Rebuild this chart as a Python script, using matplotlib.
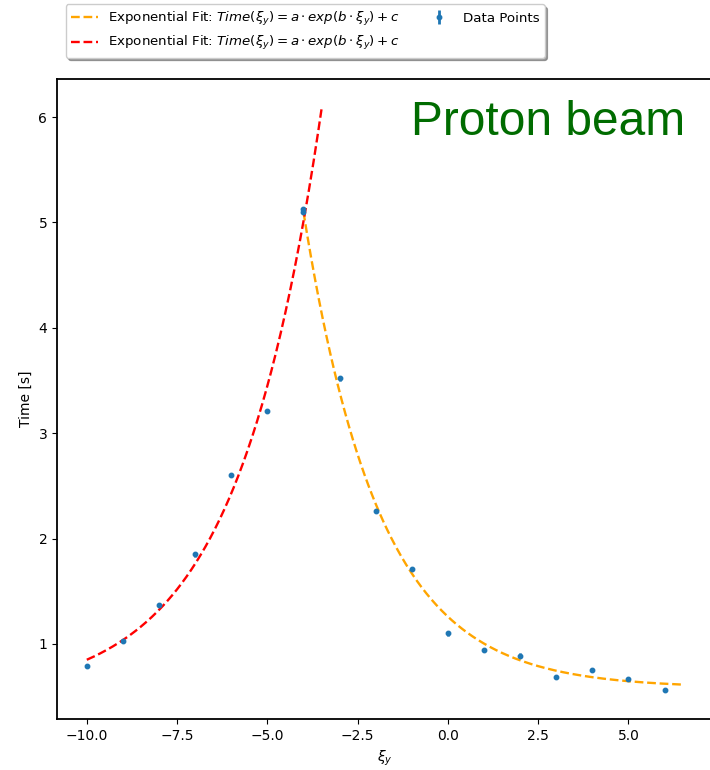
import numpy as np
import matplotlib
matplotlib.use('Agg')
from matplotlib import pyplot as plt

# Data points
xi_y = [-10, -9, -8, -7, -6, -5, -4, -4, -3, -2, -1, 0, 1, 2, 3, 4, 5, 6]
time_s = [0.79, 1.03, 1.37, 1.85, 2.60, 3.21, 5.13, 5.10, 3.52, 2.26, 1.71,
          1.10, 0.94, 0.89, 0.69, 0.75, 0.67, 0.56]
time_err = [0.02] * len(xi_y)

# Fit parameters (a, b, c) and x ranges of the two fitted curves
fit_left = (24.6, 0.424, 0.496)
range_left = (-10, -3.5)
fit_right = (0.6755, -0.475, 0.584)
range_right = (-4, 6.5)


def expo(x, a, b, c):
    return a * np.exp(b * x) + c


fig = plt.figure(figsize=(7.1, 7.7), dpi=100)
ax = fig.add_axes([0.0803, 0.0662, 0.923, 0.831])

label = r'Exponential Fit: $Time(\xi_y) = a \cdot exp(b \cdot \xi_y) + c$'

xr = np.linspace(range_right[0], range_right[1], 300)
l1, = ax.plot(xr, expo(xr, *fit_right), '--', color='orange', lw=1.7, label=label)
xl = np.linspace(range_left[0], range_left[1], 300)
l2, = ax.plot(xl, expo(xl, *fit_left), '--', color='red', lw=1.7, label=label)

eb = ax.errorbar(xi_y, time_s, yerr=time_err, fmt='o', markersize=3.2,
                 color='#1f77b4', elinewidth=2, label='Data Points')

ax.set_ylim(0.288, 6.36)
ax.set_xlabel(r'$\xi_y$')
ax.set_ylabel('Time [s]')
for s in ax.spines.values():
    s.set_linewidth(1.3)

ax.text(0.958, 0.967, 'Proton beam', transform=ax.transAxes, ha='right', va='top',
        color='#006c00', fontsize=34.5, family='Liberation Sans')

fig.legend(handles=[l1, l2, eb], loc='upper left', bbox_to_anchor=(0.083, 1.003),
           ncol=2, shadow=True, framealpha=1, fontsize=9.6, columnspacing=1.9)

fig.savefig('out.png', dpi=100)
